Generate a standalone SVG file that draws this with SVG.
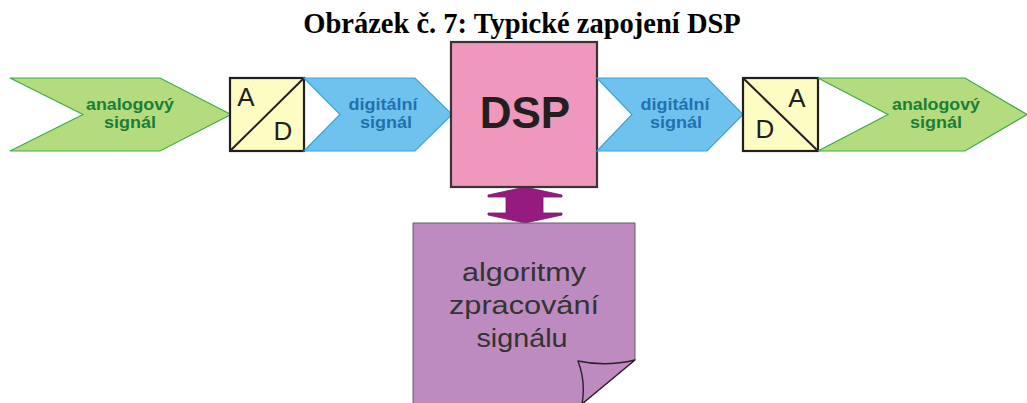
<svg xmlns="http://www.w3.org/2000/svg" width="1027" height="403" viewBox="0 0 1027 403">
<style>
.green{fill:#b4db7e;stroke:#3fab4b;stroke-width:1.2}
.blue{fill:#70c2ee;stroke:#3aa2df;stroke-width:1.2}
.conv{fill:#fdfcc2;stroke:#231f20;stroke-width:2.2}
.gt{font-family:"Liberation Sans",Arial,sans-serif;font-weight:bold;font-size:16px;fill:#1c7d38;text-anchor:middle}
.bt{font-family:"Liberation Sans",Arial,sans-serif;font-weight:bold;font-size:16px;fill:#2271ae;text-anchor:middle}
.ct{font-family:"Liberation Sans",Arial,sans-serif;font-size:26px;fill:#231f20;text-anchor:middle}
.dt{font-family:"Liberation Sans",Arial,sans-serif;font-size:26px;fill:#333;text-anchor:middle}
</style>
<rect width="1027" height="403" fill="#fff"/>
<text x="522" y="33" font-family="'Liberation Serif','Times New Roman',serif" font-weight="bold" font-size="28.5" text-anchor="middle" fill="#000">Obrázek č. 7: Typické zapojení DSP</text>

<g id="connectors">
<polygon points="525,187 562,195 562,197 543,197 543,213 562,213 562,215 525,223 488,215 488,213 506,213 506,197 488,197 488,195" fill="#951b81" stroke="#7a1569" stroke-width="0.8"/>
</g>

<g id="analog-in">
<polygon class="green" points="10,78 160,78 231,114.5 160,151 10,151 83,114.5"/>
<text class="gt" x="130" y="110" textLength="88" lengthAdjust="spacingAndGlyphs">analogový</text>
<text class="gt" x="130" y="128" textLength="52" lengthAdjust="spacingAndGlyphs">signál</text>
</g>

<g id="adc">
<rect class="conv" x="230" y="78" width="74" height="73"/>
<line x1="230" y1="151" x2="304" y2="78" stroke="#231f20" stroke-width="2"/>
<text class="ct" x="246" y="106">A</text>
<text class="ct" x="283" y="140">D</text>
</g>

<g id="digital-in">
<polygon class="blue" points="304,78 415,78 452,114.5 415,151 304,151 340,114.5"/>
<text class="bt" x="383" y="110" textLength="69" lengthAdjust="spacingAndGlyphs">digitální</text>
<text class="bt" x="386" y="128" textLength="52" lengthAdjust="spacingAndGlyphs">signál</text>
</g>

<g id="dsp">
<rect x="451" y="42" width="146" height="145" fill="#ef97bd" stroke="#3a3335" stroke-width="2.2"/>
<text x="525" y="128" font-family="'Liberation Sans',Arial,sans-serif" font-weight="bold" font-size="44" text-anchor="middle" fill="#231f20">DSP</text>
</g>

<g id="digital-out">
<polygon class="blue" points="597,78 707,78 743,114.5 707,151 597,151 632,114.5"/>
<text class="bt" x="675" y="110" textLength="69" lengthAdjust="spacingAndGlyphs">digitální</text>
<text class="bt" x="676" y="128" textLength="52" lengthAdjust="spacingAndGlyphs">signál</text>
</g>

<g id="dac">
<rect class="conv" x="743" y="78" width="75" height="73"/>
<line x1="743" y1="78" x2="818" y2="151" stroke="#231f20" stroke-width="2"/>
<text class="ct" x="765" y="138">D</text>
<text class="ct" x="797" y="107">A</text>
</g>

<g id="analog-out">
<polygon class="green" points="818,78 965,78 1027,114.5 965,151 818,151 888,114.5"/>
<text class="gt" x="936" y="110" textLength="88" lengthAdjust="spacingAndGlyphs">analogový</text>
<text class="gt" x="936" y="128" textLength="52" lengthAdjust="spacingAndGlyphs">signál</text>
</g>

<g id="algorithms">
<path d="M413,223 H635 V360 L582,404 H413 Z" fill="#bd8bbf" stroke="#6b5a6b" stroke-width="1"/>
<path d="M635,360 Q606,367 578,361 Q586,382 582,404 Z" fill="#bd8bbf" stroke="#2a2228" stroke-width="1.4" stroke-linejoin="round"/>
<text class="dt" x="524" y="281" textLength="124" lengthAdjust="spacingAndGlyphs">algoritmy</text>
<text class="dt" x="524" y="314" textLength="150" lengthAdjust="spacingAndGlyphs">zpracování</text>
<text class="dt" x="522" y="347" textLength="91" lengthAdjust="spacingAndGlyphs">signálu</text>
</g>
</svg>
